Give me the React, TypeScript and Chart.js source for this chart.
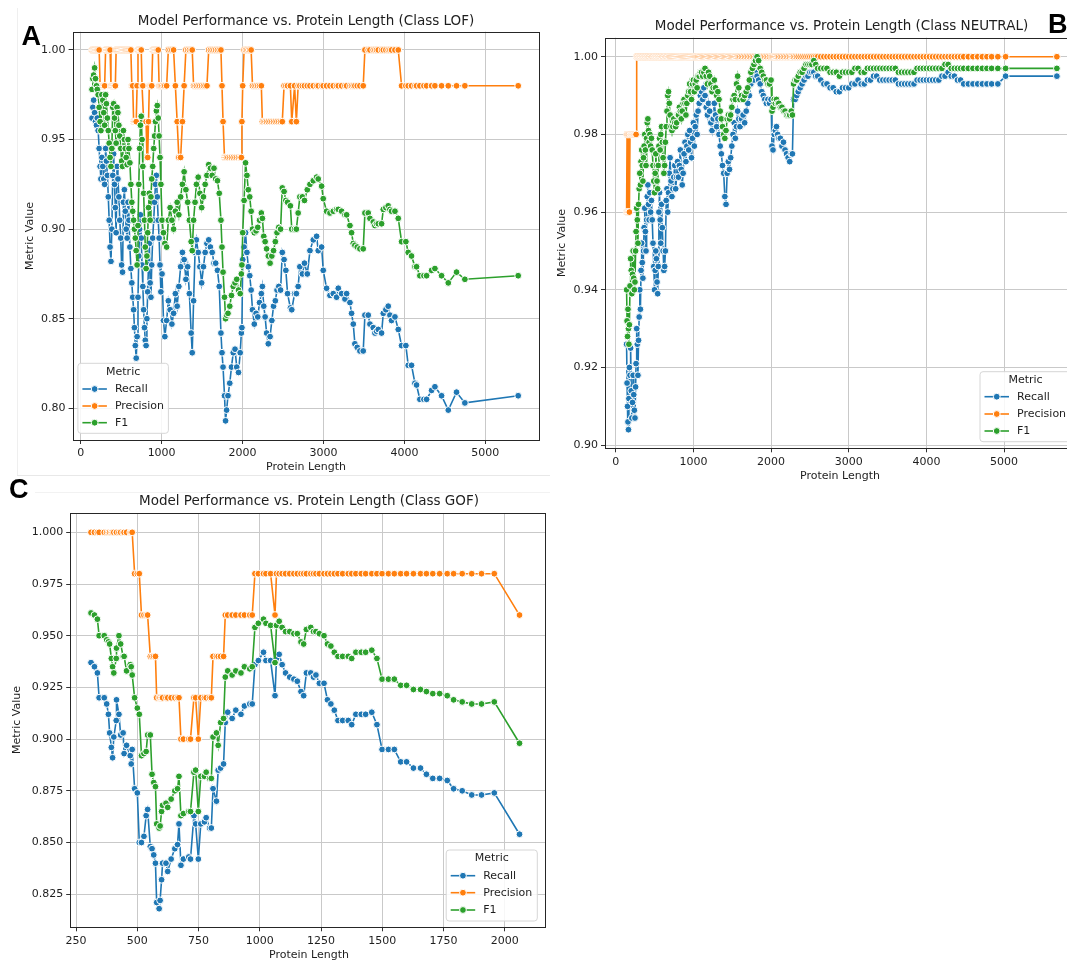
import React, { useEffect, useRef } from "react";
import { Chart, registerables } from "chart.js";

Chart.register(...registerables);

const SERIES_NAMES = ["Recall", "Precision", "F1"];
const COLORS = ["#1f77b4", "#ff7f0e", "#2ca02c"];

// ---------------- Panel A (Class LOF) ----------------
const lengthsA = [
  140, 150, 160, 172, 183, 195, 205, 216, 228, 240, 250, 262, 273, 285, 296, 308, 318, 330, 341, 352,
  363, 374, 385, 396, 407, 418, 428, 438, 449, 460, 472, 483, 495, 506, 517, 528, 540, 551, 562, 574,
  585, 596, 608, 620, 632, 643, 654, 664, 675, 686, 697, 708, 718, 728, 738, 748, 758, 768, 778, 788,
  798, 808, 818, 828, 838, 848, 858, 868, 878, 890, 902, 913, 924, 935, 946, 958, 969, 980, 991,
  1005, 1023, 1040, 1062, 1083, 1105, 1127, 1148, 1170, 1192, 1213, 1235, 1257, 1278, 1300, 1322, 1343, 1365, 1378, 1395,
  1413, 1430, 1452, 1473, 1495, 1517, 1538, 1560, 1582, 1603, 1625, 1647, 1668, 1690, 1712, 1733, 1746, 1759, 1777, 1790,
  1803, 1820, 1842, 1863, 1885, 1907, 1928, 1950, 1971, 1985, 1992, 2002, 2019, 2037, 2054, 2071, 2089, 2106, 2123, 2145,
  2167, 2188, 2210, 2232, 2245, 2262, 2279, 2297, 2318, 2340, 2362, 2383, 2405, 2426, 2448, 2470, 2491, 2513, 2535, 2556,
  2591, 2608, 2643, 2665, 2687, 2708, 2739, 2765,
  2800, 2833, 2874, 2915, 2935, 2977, 2997, 3038, 3080, 3121, 3162, 3183, 3224, 3265, 3286, 3327, 3347, 3368, 3388, 3417,
  3450, 3491, 3512, 3553, 3574, 3615, 3636, 3656, 3677, 3718, 3739, 3771, 3800, 3821, 3841, 3883, 3924, 3965, 4018, 4047,
  4088, 4130, 4150, 4191, 4241, 4274, 4336, 4377, 4459, 4542, 4644, 4747, 5406,
];
const recallA = [
  0.962, 0.968, 0.972, 0.965, 0.960, 0.958, 0.962, 0.955, 0.945, 0.935, 0.928, 0.940, 0.935, 0.928, 0.925, 0.945, 0.938, 0.930, 0.918, 0.905,
  0.890, 0.882, 0.900, 0.930, 0.942, 0.925, 0.912, 0.898, 0.935, 0.928, 0.918, 0.905, 0.895, 0.880, 0.876, 0.915, 0.922, 0.910, 0.900, 0.895,
  0.915, 0.905, 0.890, 0.878, 0.870, 0.862, 0.855, 0.845, 0.835, 0.828, 0.840, 0.862, 0.885, 0.900, 0.908, 0.895, 0.880, 0.868, 0.855, 0.845,
  0.838, 0.835, 0.850, 0.865, 0.880, 0.892, 0.870, 0.862, 0.880, 0.895, 0.905, 0.915, 0.925, 0.930, 0.918, 0.905, 0.895, 0.880, 0.865,
  0.875, 0.849, 0.840, 0.849, 0.860, 0.855, 0.847, 0.853, 0.864, 0.857, 0.868, 0.879, 0.887, 0.883, 0.872, 0.879, 0.864, 0.842, 0.831, 0.860,
  0.887, 0.894, 0.887, 0.879, 0.870, 0.879, 0.887, 0.892, 0.894, 0.890, 0.887, 0.881, 0.881, 0.877, 0.868, 0.842, 0.831, 0.823, 0.807, 0.793,
  0.799, 0.807, 0.814, 0.823, 0.831, 0.833, 0.823, 0.820, 0.831, 0.842, 0.845, 0.883, 0.890, 0.898, 0.887, 0.879, 0.874, 0.866, 0.855, 0.847,
  0.853, 0.851, 0.859, 0.864, 0.868, 0.857, 0.851, 0.842, 0.836, 0.840, 0.849, 0.857, 0.860, 0.866, 0.868, 0.866, 0.887, 0.883, 0.877, 0.864,
  0.856, 0.855, 0.864, 0.864, 0.868, 0.879, 0.875, 0.881,
  0.875, 0.888, 0.894, 0.896, 0.888, 0.890, 0.877, 0.867, 0.863, 0.864, 0.862, 0.867, 0.864, 0.861, 0.864, 0.859, 0.853, 0.847, 0.836, 0.834,
  0.832, 0.832, 0.852, 0.852, 0.847, 0.845, 0.842, 0.843, 0.844, 0.842, 0.853, 0.855, 0.857, 0.852, 0.849, 0.851, 0.844, 0.835, 0.835, 0.824,
  0.824, 0.814, 0.813, 0.805, 0.805, 0.805, 0.810, 0.812, 0.807, 0.799, 0.809, 0.803, 0.807,
];
const precisionA = [
  1, 1, 1, 1, 1, 1, 1, 1, 1, 0.98, 0.98, 0.98, 0.98, 0.98, 0.98, 1, 1, 1, 1, 1,
  1, 0.98, 0.98, 0.98, 0.98, 0.98, 0.98, 1, 1, 1, 1, 1, 1, 1, 1, 1, 1, 1, 1, 1,
  1, 1, 1, 1, 0.98, 0.98, 0.96, 0.96, 0.96, 0.96, 0.98, 1, 1, 1, 1, 1, 0.98, 0.98, 0.96, 0.96,
  0.96, 0.96, 0.94, 0.94, 0.96, 0.98, 0.98, 0.98, 0.98, 1, 1, 1, 1, 1, 1, 1, 0.98, 0.98, 0.98,
  0.98, 0.98, 0.98, 0.98, 1, 1, 1, 1, 0.98, 0.96, 0.94, 0.94, 0.96, 0.98, 1, 1, 1, 1, 1, 0.98,
  0.98, 0.98, 0.98, 0.98, 0.98, 0.98, 0.98, 0.98, 1, 1, 1, 1, 1, 1, 1, 1, 0.98, 0.96, 0.94, 0.94,
  0.94, 0.94, 0.94, 0.94, 0.94, 0.94, 0.94, 0.94, 0.94, 0.94, 0.96, 0.98, 1, 1, 1, 1, 1, 1, 0.98, 0.98,
  0.98, 0.98, 0.98, 0.98, 0.96, 0.96, 0.96, 0.96, 0.96, 0.96, 0.96, 0.96, 0.96, 0.96, 0.96, 0.96, 0.96, 0.98, 0.98, 0.98,
  0.98, 0.96, 0.98, 0.96, 0.98, 0.98, 0.98, 0.98,
  0.98, 0.98, 0.98, 0.98, 0.98, 0.98, 0.98, 0.98, 0.98, 0.98, 0.98, 0.98, 0.98, 0.98, 0.98, 0.98, 0.98, 0.98, 0.98, 0.98,
  0.98, 0.98, 1, 1, 1, 1, 1, 1, 1, 1, 1, 1, 1, 1, 1, 1, 1, 0.98, 0.98, 0.98,
  0.98, 0.98, 0.98, 0.98, 0.98, 0.98, 0.98, 0.98, 0.98, 0.98, 0.98, 0.98, 0.98,
];
const f1A = [
  0.978, 0.984, 0.986, 0.990, 0.984, 0.980, 0.978, 0.975, 0.968, 0.960, 0.955, 0.975, 0.972, 0.965, 0.958, 0.975, 0.970, 0.962, 0.955, 0.948,
  0.940, 0.935, 0.945, 0.968, 0.970, 0.962, 0.955, 0.948, 0.968, 0.965, 0.958, 0.952, 0.945, 0.938, 0.935, 0.955, 0.950, 0.945, 0.940, 0.936,
  0.950, 0.945, 0.937, 0.925, 0.915, 0.910, 0.905, 0.900, 0.895, 0.888, 0.880, 0.902, 0.925, 0.945, 0.958, 0.963, 0.950, 0.935, 0.920, 0.905,
  0.890, 0.878, 0.885, 0.898, 0.912, 0.920, 0.905, 0.918, 0.928, 0.935, 0.945, 0.952, 0.960, 0.966, 0.969, 0.962, 0.952, 0.940, 0.925,
  0.905, 0.898, 0.892, 0.890, 0.905, 0.912, 0.905, 0.900, 0.910, 0.915, 0.908, 0.918, 0.925, 0.932, 0.922, 0.915, 0.905, 0.893, 0.888, 0.905,
  0.915, 0.925, 0.929, 0.920, 0.912, 0.918, 0.925, 0.930, 0.936, 0.934, 0.930, 0.934, 0.928, 0.927, 0.920, 0.905, 0.890, 0.876, 0.862, 0.850,
  0.852, 0.853, 0.857, 0.863, 0.868, 0.870, 0.872, 0.866, 0.864, 0.875, 0.880, 0.898, 0.916, 0.937, 0.930, 0.922, 0.918, 0.910, 0.900, 0.898,
  0.899, 0.901, 0.905, 0.909, 0.906, 0.896, 0.893, 0.889, 0.885, 0.881, 0.885, 0.888, 0.893, 0.898, 0.901, 0.900, 0.923, 0.921, 0.916, 0.915,
  0.913, 0.900, 0.900, 0.900, 0.909, 0.918, 0.918, 0.916,
  0.922, 0.925, 0.927, 0.929, 0.928, 0.924, 0.917, 0.910, 0.909, 0.910, 0.911, 0.911, 0.910, 0.908, 0.908, 0.902, 0.898, 0.892, 0.891, 0.890,
  0.889, 0.889, 0.909, 0.909, 0.906, 0.904, 0.902, 0.903, 0.903, 0.903, 0.911, 0.912, 0.913, 0.911, 0.910, 0.910, 0.906, 0.893, 0.893, 0.887,
  0.885, 0.879, 0.879, 0.874, 0.874, 0.874, 0.877, 0.878, 0.874, 0.870, 0.876, 0.872, 0.874,
];
const xTicksA = [0, 1000, 2000, 3000, 4000, 5000];
const yTicksA = [0.8, 0.85, 0.9, 0.95, 1.0];

// ---------------- Panel B (Class NEUTRAL) ----------------
const lengthsB = [
  140, 146, 152, 158, 164, 170, 176, 184, 192, 200, 208, 216, 224, 232, 240, 248, 256, 262, 270, 278,
  286, 294, 302, 310, 318, 326, 334, 342, 350, 358, 366, 374, 382, 390, 398, 406, 414, 422, 430, 440,
  450, 460, 470, 480, 490, 500, 508, 516, 524, 532, 540, 548, 556, 564, 572, 580, 590, 600, 610, 620,
  630, 640, 650, 660, 670, 680, 690, 700, 712, 724, 736, 748, 760, 772, 784, 796, 808, 820, 832, 844,
  856, 868, 880, 892, 904, 916, 928, 940, 952, 964, 976, 988, 1000, 1012, 1024, 1036, 1048, 1060, 1075, 1090,
  1105, 1120, 1135, 1150, 1165, 1180, 1195, 1210, 1225, 1240, 1255, 1270, 1285, 1300, 1315, 1330, 1345, 1360, 1375, 1390,
  1405, 1420, 1435, 1450, 1465, 1480, 1495, 1510, 1525, 1540, 1555, 1570, 1585, 1600, 1620, 1640, 1660, 1680, 1700, 1720,
  1740, 1760, 1780, 1800, 1820, 1840, 1860, 1880, 1900, 1920, 1940, 1960, 1980, 2000, 2012, 2025, 2040, 2055, 2070, 2085,
  2100, 2120, 2140, 2160, 2180, 2200, 2220, 2240, 2260, 2275, 2290, 2310, 2330, 2350, 2375, 2400, 2425, 2450, 2475, 2500,
  2525, 2550, 2575, 2600, 2640, 2680, 2720, 2760, 2800, 2840, 2880, 2920, 2960, 3000, 3040, 3080, 3120, 3160, 3200, 3240,
  3280, 3320, 3360, 3400, 3440, 3480, 3520, 3560, 3600, 3640, 3680, 3720, 3760, 3800, 3840, 3880, 3920, 3960, 4000, 4040,
  4080, 4120, 4160, 4200, 4240, 4280, 4320, 4360, 4400, 4440, 4480, 4540, 4600, 4660, 4720, 4780, 4840, 4920, 5020, 5680,
];
const recallB = [
  0.926, 0.916, 0.910, 0.906, 0.904, 0.912, 0.920, 0.918, 0.925, 0.914, 0.907, 0.911, 0.918, 0.913, 0.909, 0.907, 0.915, 0.921, 0.930, 0.926,
  0.918, 0.927, 0.933, 0.940, 0.935, 0.945, 0.952, 0.947, 0.943, 0.950, 0.956, 0.961, 0.955, 0.950, 0.958, 0.964, 0.967, 0.962, 0.958, 0.965,
  0.960, 0.963, 0.958, 0.952, 0.946, 0.940, 0.945, 0.950, 0.948, 0.942, 0.939, 0.946, 0.960, 0.965, 0.958, 0.952, 0.962, 0.956, 0.950, 0.945,
  0.946, 0.950, 0.963, 0.966, 0.960, 0.965, 0.970, 0.974, 0.968, 0.964, 0.966, 0.969, 0.972, 0.966, 0.969, 0.973, 0.969, 0.972, 0.976, 0.971,
  0.967, 0.970, 0.975, 0.978, 0.973, 0.977, 0.980, 0.976, 0.981, 0.978, 0.974, 0.979, 0.983, 0.977, 0.982, 0.985, 0.980, 0.986, 0.988, 0.990,
  0.991, 0.989, 0.992, 0.990, 0.987, 0.985, 0.988, 0.986, 0.983, 0.981, 0.984, 0.988, 0.985, 0.982, 0.984, 0.980, 0.977, 0.975, 0.972, 0.970,
  0.964, 0.962, 0.970, 0.973, 0.971, 0.974, 0.977, 0.980, 0.983, 0.979, 0.982, 0.986, 0.984, 0.982, 0.984, 0.985, 0.983, 0.986, 0.988, 0.990,
  0.993, 0.995, 0.994, 0.996, 0.995, 0.994, 0.993, 0.991, 0.990, 0.989, 0.988, 0.989, 0.988, 0.989, 0.977, 0.976, 0.980, 0.981, 0.982, 0.980,
  0.979, 0.979, 0.977, 0.978, 0.976, 0.975, 0.974, 0.973, 0.975, 0.975, 0.989, 0.989, 0.990, 0.991, 0.992, 0.993, 0.994, 0.995, 0.995, 0.996,
  0.996, 0.996, 0.995, 0.995, 0.994, 0.993, 0.993, 0.992, 0.992, 0.991, 0.991, 0.992, 0.992, 0.992, 0.993, 0.993, 0.994, 0.993, 0.993, 0.994,
  0.994, 0.995, 0.995, 0.994, 0.994, 0.994, 0.994, 0.994, 0.994, 0.993, 0.993, 0.993, 0.993, 0.993, 0.993, 0.994, 0.994, 0.994, 0.994, 0.994,
  0.994, 0.994, 0.994, 0.995, 0.995, 0.996, 0.995, 0.995, 0.994, 0.994, 0.993, 0.993, 0.993, 0.993, 0.993, 0.993, 0.993, 0.993, 0.995, 0.995,
];
const precisionB = [
  0.96, 0.98, 0.96, 0.98, 0.96, 0.98, 0.96, 0.98, 0.98, 0.98, 0.98, 0.98, 0.98, 0.98, 0.98, 0.98, 0.98, 0.98, 1, 1,
  1, 1, 1, 1, 1, 1, 1, 1, 1, 1, 1, 1, 1, 1, 1, 1, 1, 1, 1, 1,
  1, 1, 1, 1, 1, 1, 1, 1, 1, 1, 1, 1, 1, 1, 1, 1, 1, 1, 1, 1,
  1, 1, 1, 1, 1, 1, 1, 1, 1, 1, 1, 1, 1, 1, 1, 1, 1, 1, 1, 1,
  1, 1, 1, 1, 1, 1, 1, 1, 1, 1, 1, 1, 1, 1, 1, 1, 1, 1, 1, 1,
  1, 1, 1, 1, 1, 1, 1, 1, 1, 1, 1, 1, 1, 1, 1, 1, 1, 1, 1, 1,
  1, 1, 1, 1, 1, 1, 1, 1, 1, 1, 1, 1, 1, 1, 1, 1, 1, 1, 1, 1,
  1, 1, 1, 1, 1, 1, 1, 1, 1, 1, 1, 1, 1, 1, 1, 1, 1, 1, 1, 1,
  1, 1, 1, 1, 1, 1, 1, 1, 1, 1, 1, 1, 1, 1, 1, 1, 1, 1, 1, 1,
  1, 1, 1, 1, 1, 1, 1, 1, 1, 1, 1, 1, 1, 1, 1, 1, 1, 1, 1, 1,
  1, 1, 1, 1, 1, 1, 1, 1, 1, 1, 1, 1, 1, 1, 1, 1, 1, 1, 1, 1,
  1, 1, 1, 1, 1, 1, 1, 1, 1, 1, 1, 1, 1, 1, 1, 1, 1, 1, 1, 1,
];
const f1B = [
  0.940, 0.932, 0.928, 0.935, 0.930, 0.926, 0.931, 0.941, 0.948, 0.945, 0.939, 0.944, 0.950, 0.943, 0.940, 0.942, 0.950, 0.955, 0.961, 0.958,
  0.952, 0.962, 0.966, 0.970, 0.967, 0.973, 0.976, 0.972, 0.968, 0.974, 0.977, 0.980, 0.976, 0.972, 0.979, 0.983, 0.984, 0.981, 0.978, 0.980,
  0.977, 0.979, 0.976, 0.972, 0.968, 0.965, 0.970, 0.975, 0.972, 0.968, 0.966, 0.972, 0.977, 0.979, 0.976, 0.980, 0.982, 0.978, 0.974, 0.970,
  0.972, 0.978, 0.982, 0.986, 0.990, 0.991, 0.988, 0.985, 0.982, 0.981, 0.982, 0.984, 0.983, 0.982, 0.983, 0.985, 0.985, 0.987, 0.986, 0.984,
  0.986, 0.988, 0.989, 0.988, 0.985, 0.988, 0.990, 0.991, 0.993, 0.991, 0.989, 0.993, 0.994, 0.991, 0.993, 0.994, 0.992, 0.995, 0.995, 0.996,
  0.996, 0.995, 0.996, 0.997, 0.995, 0.993, 0.996, 0.995, 0.993, 0.991, 0.992, 0.994, 0.992, 0.990, 0.991, 0.989, 0.986, 0.984, 0.982, 0.980,
  0.979, 0.981, 0.984, 0.985, 0.984, 0.985, 0.987, 0.989, 0.990, 0.989, 0.993, 0.995, 0.992, 0.989, 0.990, 0.989, 0.990, 0.991, 0.992, 0.994,
  0.996, 0.997, 0.998, 0.999, 1.000, 0.999, 0.997, 0.996, 0.995, 0.994, 0.994, 0.993, 0.993, 0.994, 0.986, 0.987, 0.989, 0.988, 0.989, 0.988,
  0.988, 0.987, 0.987, 0.986, 0.986, 0.985, 0.985, 0.985, 0.986, 0.985, 0.993, 0.994, 0.994, 0.995, 0.996, 0.996, 0.997, 0.998, 0.998, 0.998,
  0.998, 0.999, 0.998, 0.997, 0.997, 0.997, 0.997, 0.996, 0.996, 0.996, 0.995, 0.996, 0.996, 0.996, 0.996, 0.997, 0.997, 0.996, 0.996, 0.997,
  0.997, 0.997, 0.997, 0.997, 0.997, 0.997, 0.997, 0.997, 0.997, 0.996, 0.996, 0.996, 0.996, 0.996, 0.996, 0.997, 0.997, 0.997, 0.997, 0.997,
  0.997, 0.997, 0.997, 0.997, 0.998, 0.998, 0.997, 0.997, 0.997, 0.997, 0.997, 0.997, 0.997, 0.997, 0.997, 0.997, 0.997, 0.997, 0.997, 0.997,
];
const xTicksB = [0, 1000, 2000, 3000, 4000, 5000];
const yTicksB = [0.9, 0.92, 0.94, 0.96, 0.98, 1.0];

// ---------------- Panel C (Class GOF) ----------------
const lengthsC = [
  311, 325, 337, 344, 365, 375, 382, 387, 394, 399, 404, 414, 415, 425, 432, 442, 446, 456, 471, 475,
  479, 489, 500, 508, 517, 527, 536, 542, 553, 560, 567, 574, 579, 589, 593, 599, 603, 617, 624, 638,
  653, 664, 670, 678, 688, 710, 717, 731, 738, 749, 759, 774, 781, 795, 802, 809, 823, 830, 840, 852,
  859, 869, 887, 902, 923, 937, 959, 969, 980, 994, 1015, 1025, 1044, 1062, 1068, 1079, 1091, 1105, 1122, 1139,
  1153, 1168, 1179, 1190, 1208, 1219, 1229, 1243, 1262, 1276, 1290, 1304, 1319, 1338, 1361, 1375, 1392, 1414, 1432, 1457,
  1478, 1499, 1525, 1549, 1575, 1599, 1627, 1656, 1680, 1706, 1734, 1765, 1791, 1826, 1865, 1905, 1957, 2060,
];
const recallC = [
  0.937, 0.935, 0.932, 0.920, 0.920, 0.917, 0.912, 0.903, 0.896, 0.891, 0.901, 0.909, 0.919, 0.912, 0.902, 0.903, 0.893, 0.897, 0.892, 0.888,
  0.895, 0.876, 0.874, 0.850, 0.850, 0.853, 0.863, 0.866, 0.848, 0.847, 0.844, 0.840, 0.821, 0.818, 0.822, 0.832, 0.840, 0.840, 0.836, 0.842,
  0.847, 0.849, 0.859, 0.839, 0.842, 0.843, 0.842, 0.863, 0.859, 0.842, 0.859, 0.860, 0.862, 0.857, 0.857, 0.876, 0.870, 0.885, 0.886, 0.888,
  0.908, 0.913, 0.910, 0.914, 0.912, 0.916, 0.917, 0.917, 0.936, 0.938, 0.942, 0.938, 0.938, 0.921, 0.939, 0.941, 0.936, 0.932, 0.930, 0.929,
  0.928, 0.923, 0.921, 0.932, 0.932, 0.930, 0.931, 0.927, 0.927, 0.919, 0.917, 0.914, 0.909, 0.909, 0.909, 0.907, 0.912, 0.912, 0.912, 0.913,
  0.907, 0.895, 0.895, 0.895, 0.889, 0.889, 0.886, 0.886, 0.883, 0.881, 0.881, 0.880, 0.876, 0.875, 0.873, 0.873, 0.874, 0.854,
];
const precisionC = [
  1, 1, 1, 1, 1, 1, 1, 1, 1, 1, 1, 1, 1, 1, 1, 1, 1, 1, 1, 1,
  1, 0.98, 0.98, 0.98, 0.96, 0.96, 0.96, 0.96, 0.94, 0.94, 0.94, 0.94, 0.92, 0.92, 0.92, 0.92, 0.92, 0.92, 0.92, 0.92,
  0.92, 0.92, 0.92, 0.9, 0.9, 0.9, 0.9, 0.92, 0.92, 0.9, 0.92, 0.92, 0.92, 0.92, 0.92, 0.94, 0.94, 0.94, 0.94, 0.94,
  0.96, 0.96, 0.96, 0.96, 0.96, 0.96, 0.96, 0.96, 0.98, 0.98, 0.98, 0.98, 0.98, 0.96, 0.98, 0.98, 0.98, 0.98, 0.98, 0.98,
  0.98, 0.98, 0.98, 0.98, 0.98, 0.98, 0.98, 0.98, 0.98, 0.98, 0.98, 0.98, 0.98, 0.98, 0.98, 0.98, 0.98, 0.98, 0.98, 0.98,
  0.98, 0.98, 0.98, 0.98, 0.98, 0.98, 0.98, 0.98, 0.98, 0.98, 0.98, 0.98, 0.98, 0.98, 0.98, 0.98, 0.98, 0.96,
];
const f1C = [
  0.961, 0.960, 0.958, 0.950, 0.950, 0.948, 0.947, 0.946, 0.939, 0.935, 0.932, 0.939, 0.944, 0.950, 0.946, 0.940, 0.940, 0.933, 0.936, 0.935,
  0.931, 0.920, 0.915, 0.912, 0.892, 0.893, 0.894, 0.902, 0.902, 0.883, 0.879, 0.877, 0.859, 0.857, 0.858, 0.865, 0.868, 0.869, 0.867, 0.871,
  0.875, 0.876, 0.882, 0.863, 0.864, 0.865, 0.865, 0.884, 0.885, 0.865, 0.882, 0.882, 0.884, 0.881, 0.881, 0.901, 0.903, 0.897, 0.908, 0.910,
  0.930, 0.933, 0.931, 0.933, 0.932, 0.935, 0.934, 0.935, 0.954, 0.956, 0.958, 0.956, 0.955, 0.937, 0.955, 0.957, 0.954, 0.952, 0.952, 0.951,
  0.951, 0.947, 0.946, 0.953, 0.954, 0.952, 0.952, 0.951, 0.950, 0.946, 0.945, 0.942, 0.940, 0.940, 0.940, 0.939, 0.942, 0.942, 0.942, 0.943,
  0.939, 0.929, 0.929, 0.929, 0.926, 0.926, 0.924, 0.924, 0.923, 0.922, 0.922, 0.921, 0.919, 0.918, 0.917, 0.917, 0.918, 0.898,
];
const xTicksC = [250, 500, 750, 1000, 1250, 1500, 1750, 2000];
const yTicksC = [0.825, 0.85, 0.875, 0.9, 0.925, 0.95, 0.975, 1.0];

// ---------------- layout ----------------
type Box = { l: number; t: number; r: number; b: number };
type PanelCfg = {
  left: number; top: number; width: number; height: number;
  area: Box;
  xMin: number; xMax: number; yMin: number; yMax: number;
  xTicks: number[]; yTicks: number[]; yDigits: number;
  title: string; titleX: number; titleY: number;
  letter: string; letterX: number; letterY: number;
  yTitleX: number; yTitleY: number; xTitleX: number; xTitleY: number;
  legend: Box & { titleY: number; rows: number[] };
  lengths: number[]; recall: number[]; precision: number[]; f1: number[];
};

const panels: PanelCfg[] = [
  {
    left: 0, top: 0, width: 550, height: 475,
    area: { l: 72.6, t: 31.7, r: 539, b: 440 },
    xMin: -100, xMax: 5663, yMin: 0.7823, yMax: 1.0102,
    xTicks: xTicksA, yTicks: yTicksA, yDigits: 2,
    title: "Model Performance vs. Protein Length (Class LOF)", titleX: 306, titleY: 21.7,
    letter: "A", letterX: 21.5, letterY: 45,
    yTitleX: 29.8, yTitleY: 236, xTitleX: 306, xTitleY: 466.7,
    legend: { l: 77.9, t: 363.3, r: 168.4, b: 433.3, titleY: 371.7, rows: [389, 406, 422.7] },
    lengths: lengthsA, recall: recallA, precision: precisionA, f1: f1A,
  },
  {
    left: 550, top: 0, width: 550, height: 492,
    area: { l: 605, t: 37.7, r: 1078.4, b: 448.3 },
    xMin: -138, xMax: 5957, yMin: 0.8992, yMax: 1.0049,
    xTicks: xTicksB, yTicks: yTicksB, yDigits: 2,
    title: "Model Performance vs. Protein Length (Class NEUTRAL)", titleX: 841.5, titleY: 26.7,
    letter: "B", letterX: 1048, letterY: 33,
    yTitleX: 561.7, yTitleY: 243, xTitleX: 840, xTitleY: 476,
    legend: { l: 980, t: 371.7, r: 1071, b: 441.7, titleY: 380, rows: [396.7, 414, 431] },
    lengths: lengthsB, recall: recallB, precision: precisionB, f1: f1B,
  },
  {
    left: 0, top: 475, width: 550, height: 487,
    area: { l: 70.2, t: 513.3, r: 548, b: 927.3 },
    xMin: 226, xMax: 2164, yMin: 0.809, yMax: 1.0092,
    xTicks: xTicksC, yTicks: yTicksC, yDigits: 3,
    title: "Model Performance vs. Protein Length (Class GOF)", titleX: 309, titleY: 501.7,
    letter: "C", letterX: 9, letterY: 498.3,
    yTitleX: 16.8, yTitleY: 720, xTitleX: 309, xTitleY: 955,
    legend: { l: 446.2, t: 850, r: 537.3, b: 921, titleY: 858.3, rows: [875.7, 892.7, 910] },
    lengths: lengthsC, recall: recallC, precision: precisionC, f1: f1C,
  },
];

const FONT = '"DejaVu Sans", "Liberation Sans", sans-serif';
const TEXT = "#1e1e1e";
const POINT_R = 3.4;

function Panel({ cfg }: { cfg: PanelCfg }) {
  const ref = useRef<HTMLCanvasElement | null>(null);

  useEffect(() => {
    const canvas = ref.current;
    if (!canvas) return;
    const series = [cfg.recall, cfg.precision, cfg.f1];
    const datasets = series.map((vals, k) => ({
      label: SERIES_NAMES[k],
      data: cfg.lengths.map((x, i) => ({ x, y: vals[i] })),
      borderColor: COLORS[k],
      backgroundColor: COLORS[k],
      borderWidth: 1.6,
      pointRadius: POINT_R,
      pointBackgroundColor: COLORS[k],
      pointBorderColor: "#ffffff",
      pointBorderWidth: 1,
      tension: 0,
      fill: false,
      order: 3 - k,
    }));

    const ox = cfg.left;
    const oy = cfg.top;

    const overlay = {
      id: "overlay",
      afterDraw(chart: any) {
        const ctx: CanvasRenderingContext2D = chart.ctx;
        const a = chart.chartArea;
        ctx.save();
        // frame
        ctx.strokeStyle = "#262626";
        ctx.lineWidth = 1;
        ctx.strokeRect(Math.round(a.left) + 0.5, Math.round(a.top) + 0.5,
          Math.round(a.right) - Math.round(a.left), Math.round(a.bottom) - Math.round(a.top));
        // title
        ctx.fillStyle = TEXT;
        ctx.textAlign = "center";
        ctx.textBaseline = "middle";
        ctx.font = `13.5px ${FONT}`;
        ctx.fillText(cfg.title, cfg.titleX - ox, cfg.titleY - oy);
        // axis titles
        ctx.font = `11px ${FONT}`;
        ctx.fillText("Protein Length", cfg.xTitleX - ox, cfg.xTitleY - oy);
        ctx.save();
        ctx.translate(cfg.yTitleX - ox, cfg.yTitleY - oy);
        ctx.rotate(-Math.PI / 2);
        ctx.fillText("Metric Value", 0, 0);
        ctx.restore();
        // legend
        const lg = cfg.legend;
        const lx = lg.l - ox, ly = lg.t - oy, lw = lg.r - lg.l, lh = lg.b - lg.t;
        ctx.beginPath();
        const rr = 3;
        ctx.moveTo(lx + rr, ly);
        ctx.lineTo(lx + lw - rr, ly);
        ctx.arcTo(lx + lw, ly, lx + lw, ly + rr, rr);
        ctx.lineTo(lx + lw, ly + lh - rr);
        ctx.arcTo(lx + lw, ly + lh, lx + lw - rr, ly + lh, rr);
        ctx.lineTo(lx + rr, ly + lh);
        ctx.arcTo(lx, ly + lh, lx, ly + lh - rr, rr);
        ctx.lineTo(lx, ly + rr);
        ctx.arcTo(lx, ly, lx + rr, ly, rr);
        ctx.closePath();
        ctx.fillStyle = "rgba(255,255,255,0.85)";
        ctx.fill();
        ctx.strokeStyle = "#d6d6d6";
        ctx.lineWidth = 1;
        ctx.stroke();
        ctx.fillStyle = TEXT;
        ctx.textAlign = "center";
        ctx.fillText("Metric", lx + lw / 2, lg.titleY - oy);
        SERIES_NAMES.forEach((name, k) => {
          const y = lg.rows[k] - oy;
          const h0 = lx + 4.5, h1 = lx + 29;
          ctx.strokeStyle = COLORS[k];
          ctx.lineWidth = 1.6;
          ctx.beginPath();
          ctx.moveTo(h0, y);
          ctx.lineTo(h1, y);
          ctx.stroke();
          ctx.beginPath();
          ctx.arc((h0 + h1) / 2, y, POINT_R, 0, Math.PI * 2);
          ctx.fillStyle = COLORS[k];
          ctx.fill();
          ctx.strokeStyle = "#ffffff";
          ctx.lineWidth = 1;
          ctx.stroke();
          ctx.fillStyle = TEXT;
          ctx.textAlign = "left";
          ctx.fillText(name, lx + 37, y);
        });
        // panel letter
        ctx.fillStyle = "#000000";
        ctx.textAlign = "left";
        ctx.textBaseline = "alphabetic";
        ctx.font = 'bold 27px "Liberation Sans", Arial, sans-serif';
        ctx.fillText(cfg.letter, cfg.letterX - ox, cfg.letterY - oy);
        ctx.restore();
      },
    };

    const tickFont = { family: FONT, size: 11 };
    const chart = new Chart(canvas, {
      type: "line",
      data: { datasets: datasets as any },
      options: {
        animation: false,
        responsive: false,
        devicePixelRatio: 1,
        events: [],
        layout: {
          padding: {
            left: 0,
            top: cfg.area.t - cfg.top,
            right: cfg.left + cfg.width - cfg.area.r,
            bottom: 0,
          },
        },
        plugins: { legend: { display: false }, tooltip: { enabled: false }, title: { display: false } },
        scales: {
          x: {
            type: "linear",
            min: cfg.xMin,
            max: cfg.xMax,
            afterFit: (s: any) => { s.height = cfg.top + cfg.height - cfg.area.b; },
            afterBuildTicks: (s: any) => { s.ticks = cfg.xTicks.map((v) => ({ value: v })); },
            ticks: {
              autoSkip: false, maxRotation: 0, minRotation: 0, padding: 3,
              color: TEXT, font: tickFont,
              callback: (v: any) => String(v),
            },
            grid: { color: "#c9c9c9", lineWidth: 1, drawTicks: true, tickLength: 4, tickColor: "#333333", tickWidth: 1 },
            border: { display: false },
          },
          y: {
            type: "linear",
            min: cfg.yMin,
            max: cfg.yMax,
            afterFit: (s: any) => { s.width = cfg.area.l - cfg.left; },
            afterBuildTicks: (s: any) => { s.ticks = cfg.yTicks.map((v) => ({ value: v })); },
            ticks: {
              autoSkip: false, padding: 3, color: TEXT, font: tickFont,
              callback: (v: any) => Number(v).toFixed(cfg.yDigits),
            },
            grid: { color: "#c9c9c9", lineWidth: 1, drawTicks: true, tickLength: 4, tickColor: "#333333", tickWidth: 1 },
            border: { display: false },
          },
        },
      } as any,
      plugins: [overlay],
    });
    return () => chart.destroy();
  }, [cfg]);

  return (
    <canvas
      ref={ref}
      width={cfg.width}
      height={cfg.height}
      style={{ position: "absolute", left: cfg.left, top: cfg.top, width: cfg.width, height: cfg.height }}
    />
  );
}

export default function App() {
  return (
    <div
      style={{
        position: "absolute", left: 0, top: 0, width: 1067, height: 962,
        overflow: "hidden", background: "#ffffff",
      }}
    >
      <div style={{ position: "absolute", left: 17, top: 8, width: 1, height: 467, background: "#efefef" }} />
      <div style={{ position: "absolute", left: 17, top: 475, width: 533, height: 1, background: "#e8e8e8" }} />
      <div style={{ position: "absolute", left: 35, top: 492, width: 515, height: 1, background: "#f2f2f2" }} />
      {panels.map((p) => (
        <Panel key={p.letter} cfg={p} />
      ))}
    </div>
  );
}
